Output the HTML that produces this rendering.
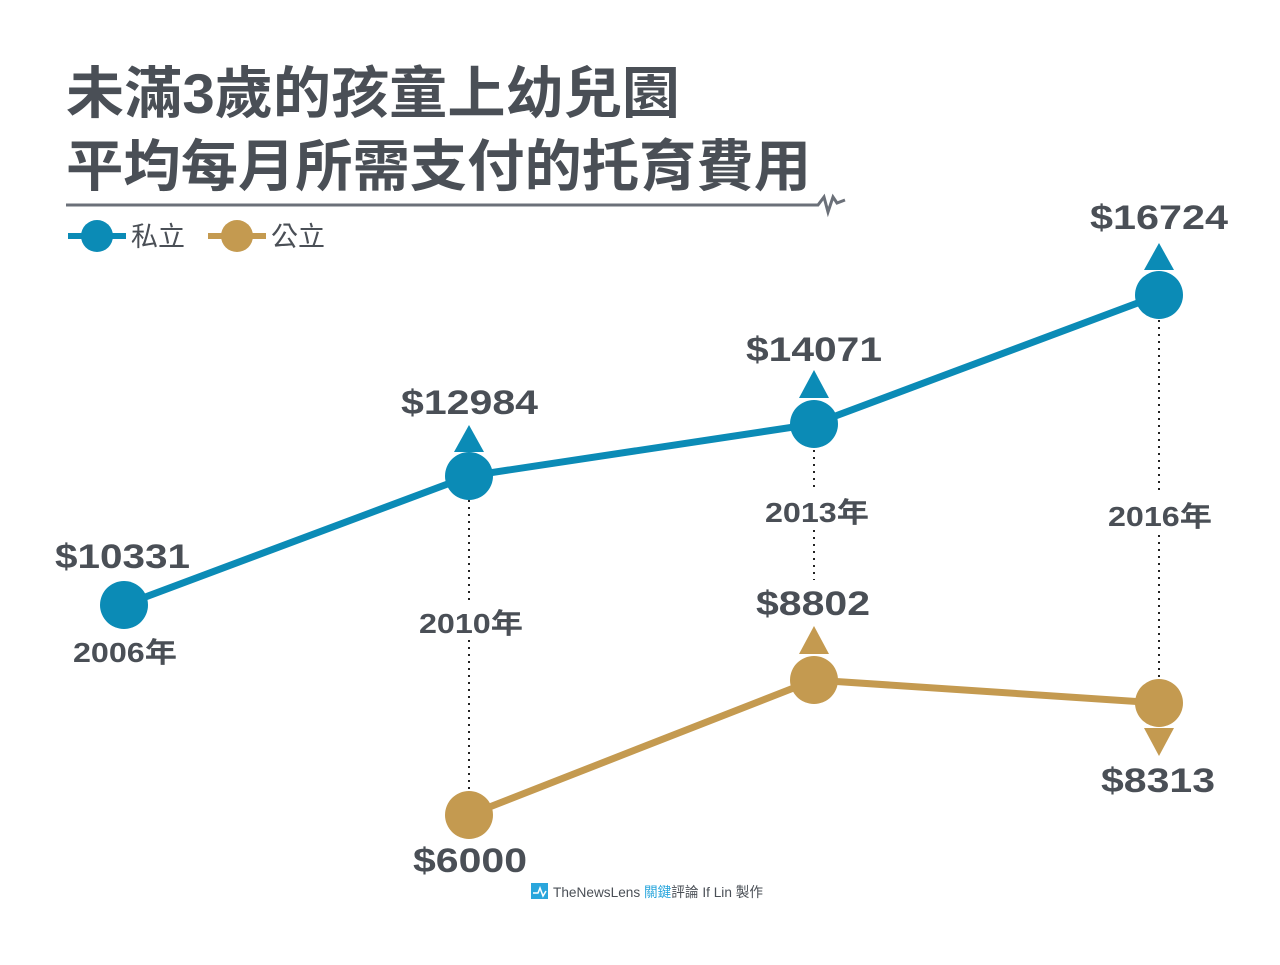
<!DOCTYPE html>
<html><head><meta charset="utf-8"><style>
body{margin:0;background:#fff;}
svg text{font-family:"Liberation Sans","Noto Sans CJK TC",sans-serif;fill:#4a4f56;}
</style></head><body>
<svg width="1280" height="960" viewBox="0 0 1280 960" xmlns="http://www.w3.org/2000/svg">
<text x="66" y="113" font-size="56" font-weight="bold" textLength="614" lengthAdjust="spacingAndGlyphs">未滿3歲的孩童上幼兒園</text>
<text x="66" y="186" font-size="56" font-weight="bold" textLength="745" lengthAdjust="spacingAndGlyphs">平均每月所需支付的托育費用</text>
<polyline points="66,205 818,205 824,197 828,212 833,197 837,203 845,200" fill="none" stroke="#6b7079" stroke-width="3"/>
<line x1="68" y1="236" x2="126" y2="236" stroke="#0b8bb6" stroke-width="6"/>
<circle cx="97" cy="236" r="16" fill="#0b8bb6"/>
<text x="131" y="246" font-size="27">私立</text>
<line x1="208" y1="236" x2="266" y2="236" stroke="#c49a50" stroke-width="6"/>
<circle cx="237" cy="236" r="16" fill="#c49a50"/>
<text x="271" y="246" font-size="27">公立</text>
<g stroke="#222" stroke-width="2" stroke-dasharray="2,5">
<line x1="469" y1="500" x2="469" y2="600"/><line x1="469" y1="640" x2="469" y2="790"/>
<line x1="814" y1="450" x2="814" y2="490"/><line x1="814" y1="530" x2="814" y2="580"/>
<line x1="1159" y1="320" x2="1159" y2="495"/><line x1="1159" y1="535" x2="1159" y2="680"/>
</g>
<polyline points="124,605 469,476 814,424 1159,295" fill="none" stroke="#0b8bb6" stroke-width="7"/>
<polyline points="469,815 814,680 1159,703" fill="none" stroke="#c49a50" stroke-width="7"/>
<g fill="#0b8bb6">
<circle cx="124" cy="605" r="24"/><circle cx="469" cy="476" r="24"/><circle cx="814" cy="424" r="24"/><circle cx="1159" cy="295" r="24"/>
<polygon points="469,425 484,452 454,452"/><polygon points="814,370 829,398 799,398"/><polygon points="1159,243 1174,270 1144,270"/>
</g>
<g fill="#c49a50">
<circle cx="469" cy="815" r="24"/><circle cx="814" cy="680" r="24"/><circle cx="1159" cy="703" r="24"/>
<polygon points="814,626 829,654 799,654"/><polygon points="1159,756 1174,728 1144,728"/>
</g>
<g font-size="34" font-weight="bold">
<text x="55" y="568" textLength="135" lengthAdjust="spacingAndGlyphs">$10331</text>
<text x="401" y="414" textLength="137" lengthAdjust="spacingAndGlyphs">$12984</text>
<text x="746" y="361" textLength="136" lengthAdjust="spacingAndGlyphs">$14071</text>
<text x="1090" y="229" textLength="138" lengthAdjust="spacingAndGlyphs">$16724</text>
<text x="413" y="872" textLength="114" lengthAdjust="spacingAndGlyphs">$6000</text>
<text x="756" y="615" textLength="114" lengthAdjust="spacingAndGlyphs">$8802</text>
<text x="1101" y="792" textLength="114" lengthAdjust="spacingAndGlyphs">$8313</text>
</g>
<g font-size="28" font-weight="bold">
<text x="73" y="662" textLength="104" lengthAdjust="spacingAndGlyphs">2006年</text>
<text x="419" y="633" textLength="104" lengthAdjust="spacingAndGlyphs">2010年</text>
<text x="765" y="522" textLength="104" lengthAdjust="spacingAndGlyphs">2013年</text>
<text x="1108" y="526" textLength="104" lengthAdjust="spacingAndGlyphs">2016年</text>
</g>
<rect x="531" y="883" width="17" height="16" fill="#2aa6dc"/>
<polyline points="533,893 538,893 540,888 543,896 546,891" fill="none" stroke="#fff" stroke-width="1.5"/>
<text x="553" y="897" font-size="14" textLength="210" lengthAdjust="spacingAndGlyphs">TheNewsLens <tspan fill="#2aa6dc">關鍵</tspan>評論 If Lin 製作</text>
</svg>
</body></html>
